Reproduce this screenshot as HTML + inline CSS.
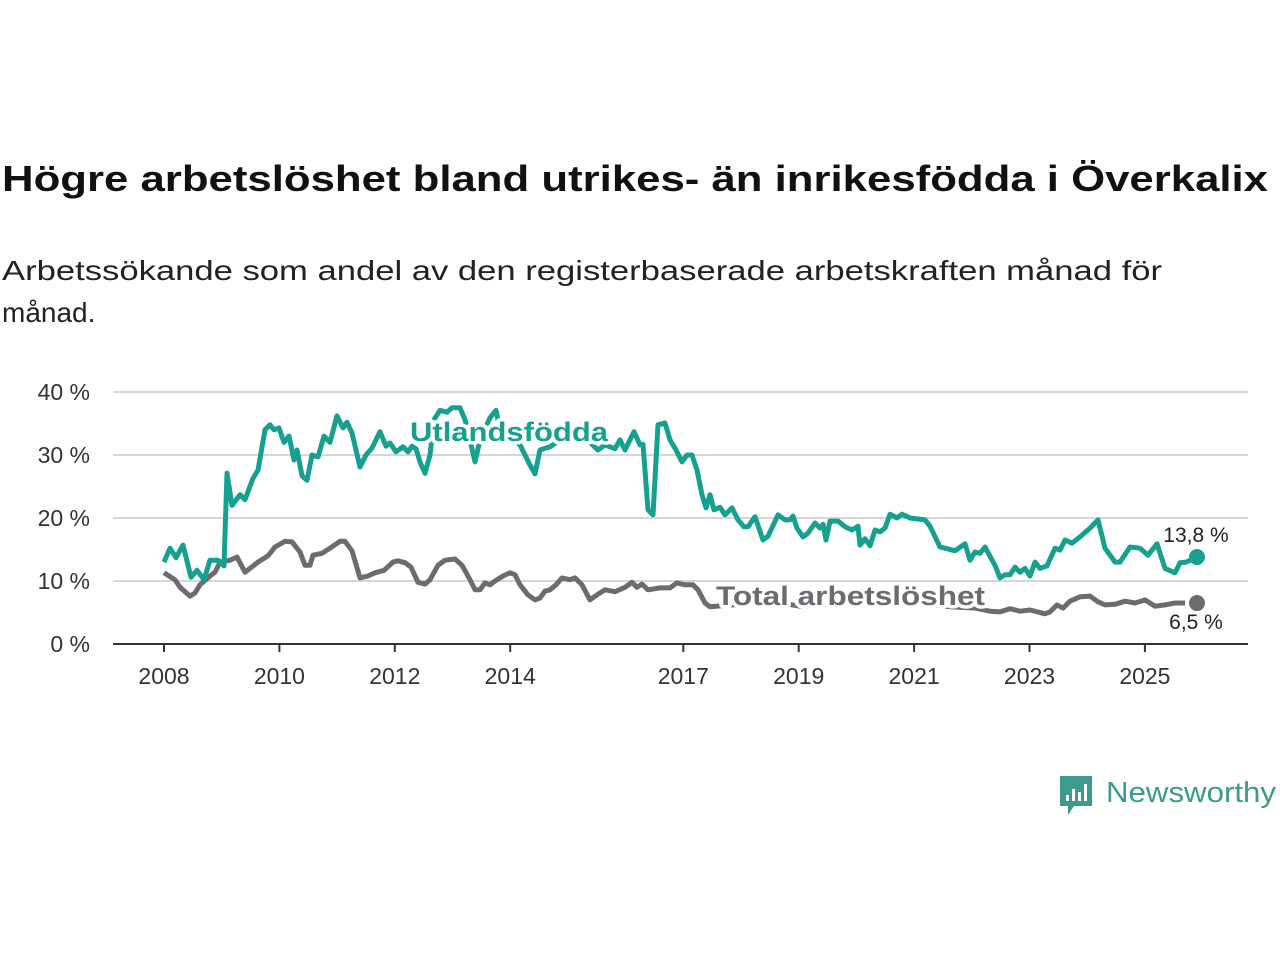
<!DOCTYPE html>
<html><head><meta charset="utf-8"><style>
html,body{margin:0;padding:0;background:#fff;}
svg{display:block;font-family:"Liberation Sans",sans-serif;}
</style></head><body>
<svg id="chart" width="1280" height="960">
<text x="2" y="191" font-size="36" font-weight="bold" fill="#111" textLength="1266" lengthAdjust="spacingAndGlyphs">Högre arbetslöshet bland utrikes- än inrikesfödda i Överkalix</text>
<text x="2" y="280" font-size="28" fill="#222" textLength="1160" lengthAdjust="spacingAndGlyphs">Arbetssökande som andel av den registerbaserade arbetskraften månad för</text>
<text x="2" y="322" font-size="28" fill="#222">månad.</text>
<g id="grid"></g><g id="axes"></g><g id="series"></g><g id="labels"></g>
<g>
<path d="M1060 776 h32 v30 h-18 l-6 9 v-9 h-8 z" fill="#3c9a8e"/>
<rect x="1066" y="795" width="3" height="6" fill="#fff"/><rect x="1072" y="789" width="3" height="12" fill="#fff"/><rect x="1078" y="792" width="3" height="9" fill="#fff"/><rect x="1084" y="784" width="3" height="17" fill="#fff"/>
<text x="1106" y="802" font-size="29" fill="#3c9a8e" textLength="170" lengthAdjust="spacingAndGlyphs">Newsworthy</text>
</g>
</svg>
<script>
const yTicks=[0,10,20,30,40];
const xTicks=[2008,2010,2012,2014,2017,2019,2021,2023,2025];
const fbDates=[];
const fbPx=[164,170,176,183,191,197,204,210,218,224,227,232,240,245,253,258,265,270,274,279,284,289,294,297,302,307,312,318,324,330,337,343,347,352,360,366,372,380,386,390,396,403,408,412,416,420,425,430,434,440,447,452,460,465,470,475,480,490,496,500,520,530,535,540,550,560,575,590,598,605,615,620,625,630,634,640,643,648,653,658,665,670,676,682,687,692,697,702,706,710,714,720,725,732,738,744,748,755,763,768,778,785,790,793,797,803,808,815,820,823,826,830,838,845,852,858,860,865,870,875,880,885,890,897,902,910,925,930,940,948,955,965,970,975,980,985,995,1000,1005,1010,1015,1020,1025,1030,1035,1040,1047,1055,1060,1065,1072,1080,1090,1098,1105,1115,1120,1130,1140,1148,1157,1165,1175,1180,1186,1197];
fbPx.forEach(p=>fbDates.push(+(2008+(p-164)/57.7).toFixed(3)));
const foreignBorn=[13.0,15.2,13.7,15.7,10.6,11.7,10.2,13.3,13.3,12.4,27.1,22,23.7,22.9,26.3,27.6,34,34.8,34,34.3,32,33,29.2,30.8,26.7,26,30,29.7,33,32,36.2,34.3,35.2,33.5,28.1,30,31.1,33.7,31.4,31.9,30.5,31.3,30.5,31.4,31,28.9,27.1,30,35.6,37.1,36.8,37.5,37.5,35.6,32.4,28.9,32.4,35.9,37.1,34,31.6,28.4,27,30.8,31.3,32.4,33.2,32,30.8,31.6,31,32.4,30.8,32.4,33.7,31.6,31.7,21.3,20.5,34.8,35.1,32.4,30.8,28.9,30,30,27.6,23.7,21.6,23.7,21.3,21.7,20.5,21.6,19.7,18.6,18.6,20.2,16.5,17.1,20.5,19.7,19.7,20.3,18.4,17,17.6,19.2,18.4,19,16.5,19.5,19.5,18.6,18.1,18.7,15.7,16.7,15.6,18.1,17.8,18.4,20.6,20,20.6,20,19.7,18.7,15.4,15.1,14.8,15.9,13.3,14.6,14.4,15.4,12.5,10.5,11,11,12.2,11.4,12,10.8,13,12,12.4,15.2,14.9,16.5,16,17,18.4,19.7,15.2,13,13,15.4,15.2,14.1,15.9,12,11.3,12.9,13,13.8];
const totPx=[164,175,180,190,195,200,210,215,220,230,237,245,250,258,268,275,285,292,300,305,310,313,322,330,340,345,352,360,368,375,384,393,398,405,411,418,425,430,438,445,455,462,470,475,480,485,490,495,503,510,515,520,528,535,540,545,550,556,562,570,575,582,590,597,605,615,625,632,637,642,648,660,670,677,685,693,698,705,710,740,770,800,830,860,890,920,950,975,990,1000,1010,1020,1030,1045,1050,1057,1063,1070,1080,1090,1098,1105,1115,1125,1135,1145,1155,1165,1175,1185,1197];
const totDates=totPx.map(p=>+(2008+(p-164)/57.7).toFixed(3));
const total=[11.3,10.2,9,7.6,8.1,9.4,10.8,11.4,13,13.3,13.8,11.4,12,13,14,15.4,16.3,16.2,14.6,12.5,12.5,14.1,14.4,15.2,16.3,16.3,14.8,10.5,10.8,11.3,11.7,13,13.2,12.9,12.2,9.8,9.5,10.2,12.5,13.3,13.5,12.5,10.2,8.6,8.6,9.7,9.4,10,10.8,11.3,11,9.4,7.8,7,7.3,8.4,8.6,9.4,10.5,10.2,10.5,9.4,7,7.8,8.6,8.3,9,9.8,9,9.5,8.6,8.9,8.9,9.7,9.4,9.4,8.6,6.5,5.9,6.3,6.8,6,6.4,6.9,6.2,6.5,5.9,5.7,5.2,5.1,5.6,5.2,5.4,4.8,5.1,6.2,5.7,6.8,7.5,7.6,6.7,6.2,6.3,6.8,6.5,7,6,6.2,6.5,6.5];
const NS='http://www.w3.org/2000/svg';
const x=d=>164+(d-2008)*57.7;
const y=v=>644-v*6.3;
function mk(t,a,p){const e=document.createElementNS(NS,t);for(const k in a)e.setAttribute(k,a[k]);document.getElementById(p).appendChild(e);return e;}
yTicks.forEach(v=>{
 if(v>0){const g=mk('line',{x1:113,x2:1248,y1:y(v),y2:y(v),stroke:'#d6d6d6','stroke-width':2},'grid');
 
 }
 const t=mk('text',{x:90,y:y(v)+8,'font-size':23,'text-anchor':'end',fill:'#333'},'axes');t.textContent=v+' %';
 
 
});
const base=mk('line',{x1:113,x2:1248,y1:644,y2:644,stroke:'#333','stroke-width':2},'axes');


xTicks.forEach(d=>{
 mk('line',{x1:x(d),x2:x(d),y1:644,y2:652,stroke:'#333','stroke-width':2},'axes');
 const t=mk('text',{x:x(d),y:684,'font-size':23,'text-anchor':'middle',fill:'#333'},'axes');t.textContent=d;
 
 
});
function line(ds,vs,col,name){
 const p=mk('path',{d:ds.map((d,i)=>(i?'L':'M')+x(d).toFixed(1)+' '+y(vs[i]).toFixed(1)).join(''),fill:'none',stroke:col,'stroke-width':5,'stroke-linejoin':'round'},'series');
 
 
 const c=mk('circle',{cx:x(ds[ds.length-1]),cy:y(vs[vs.length-1]),r:8,fill:col},'series');
 
 
}
line(totDates,total,'#6d6b70','total-line');
line(fbDates,foreignBorn,'#16a08f','foreign-born-line');
function lab(tx,xx,yy,col,name,bold,anchor,len){
 const a={x:xx,y:yy,'font-size':bold?27:21,'font-weight':bold?'bold':'normal',fill:col,stroke:'#fff','stroke-width':bold?7:5,'paint-order':'stroke','stroke-linejoin':'round','text-anchor':anchor||'start'};
 if(len){a.textLength=len;a.lengthAdjust='spacingAndGlyphs';}
 const t=mk('text',a,'labels');
 t.textContent=tx;
 
 
}
lab('Utlandsfödda',410,441,'#16a08f','foreign-born-label',true,'start',198);
lab('Total arbetslöshet',716,605,'#6d6b70','total-label',true,'start',269);
lab('13,8 %',1196,542,'#222','foreign-born-end-value',false,'middle');
lab('6,5 %',1196,629,'#222','total-end-value',false,'middle');
</script>
</body></html>
